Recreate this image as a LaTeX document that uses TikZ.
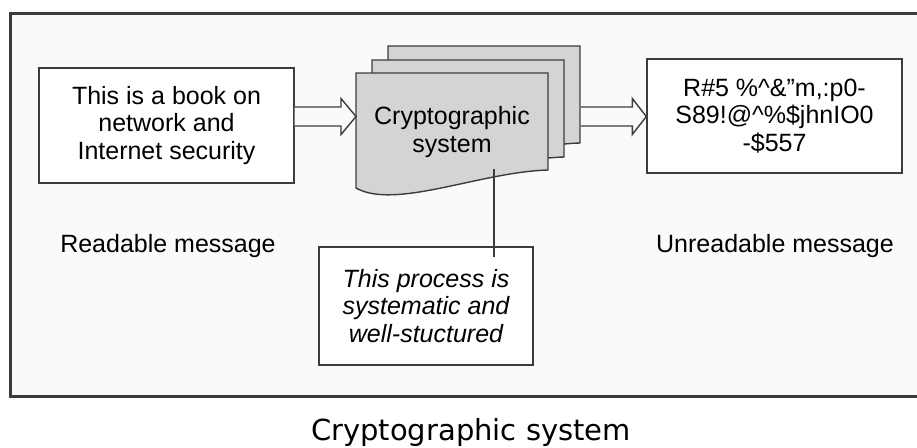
\documentclass[tikz,border=0pt]{standalone}
\usepackage{fontspec}
\setmainfont{Liberation Sans}
\newfontfamily\capfont{DejaVu Sans}
\usetikzlibrary{calc}
\definecolor{edge}{HTML}{3C3C3C}
\definecolor{docfill}{HTML}{D4D4D4}
\definecolor{panel}{HTML}{FAFAFA}
\begin{document}
\begin{tikzpicture}[x=1pt,y=-1pt,
  box/.style={draw=edge, line width=1.4pt, fill=white, inner sep=0pt, align=center,
    font=\fontsize{25}{27.5}\selectfont},
  docsheet/.style={draw=edge, line width=1.4pt, fill=docfill},
  blockarrow/.style={draw=edge, line width=1.4pt, fill=panel, line join=miter},
  lbl/.style={inner sep=0pt, font=\fontsize{25}{27.5}\selectfont},
  link/.style={draw=edge, line width=1.2pt}]
\clip (0,0) rectangle (917,447);
\fill[white] (0,0) rectangle (917,447);
% frame
\draw[line width=3pt, draw=edge, fill=panel] (10,13) rectangle (935,396);
% document stack
\foreach \dx/\dy in {32/-27,16/-13,0/0}{
  \begin{scope}[shift={(\dx,\dy)}]
    \draw[docsheet] (356,73) -- (548,73) -- (548,170)
      .. controls (480,172) and (395,210) .. (356,188) -- cycle;
  \end{scope}
}
\node[inner sep=0pt, align=center, font=\fontsize{25}{27.5}\selectfont] (crypt) at (452,132) {Cryptographic\\system};
\coordinate (docL) at (356,116.5);
\coordinate (docR) at (581,116.5);
\coordinate (docB) at (494,169);
% boxes
\node[box, minimum width=255pt, minimum height=115pt] (plain) at (166.5,125.5)
  {This is a book on\\network and\\Internet security};
\node[box, minimum width=255pt, minimum height=114pt] (cipher) at (774.5,116)
  {R\#5 \%\textasciicircum\&”m,:p0-\\S89!@\textasciicircum\%\$jhnIO0\\-\$557};
\node[box, minimum width=214pt, minimum height=118pt] (note) at (426,306)
  {\itshape This process is\\\itshape systematic and\\\itshape well-stuctured};
% arrows
\path (plain.east |- docL) coordinate (a1s);
\draw[blockarrow] ($(a1s)+(0,-9.5)$) -- ($(docL)+(-15,-9.5)$) -- ($(docL)+(-15,-18)$)
  -- (docL) -- ($(docL)+(-15,18)$) -- ($(docL)+(-15,9.5)$) -- ($(a1s)+(0,9.5)$);
\path (cipher.west |- docR) coordinate (a2e);
\draw[blockarrow] ($(docR)+(0,-9.5)$) -- ($(a2e)+(-14,-9.5)$) -- ($(a2e)+(-14,-18)$)
  -- (a2e) -- ($(a2e)+(-14,18)$) -- ($(a2e)+(-14,9.5)$) -- ($(docR)+(0,9.5)$);
% connector to note
\path (note.north -| docB) coordinate (nt);
\draw[link] (docB) -- ($(nt)+(0,11)$);
% labels
\node[lbl, anchor=base] (rl) at (168,252) {Readable message};
\node[lbl, anchor=base] (ul) at (775,252) {Unreadable message};
% caption
\node[anchor=base, inner sep=0pt, font=\capfont\fontsize{29}{34}\selectfont] (cap) at (471,440) {Cryptographic system};
\end{tikzpicture}
\end{document}
